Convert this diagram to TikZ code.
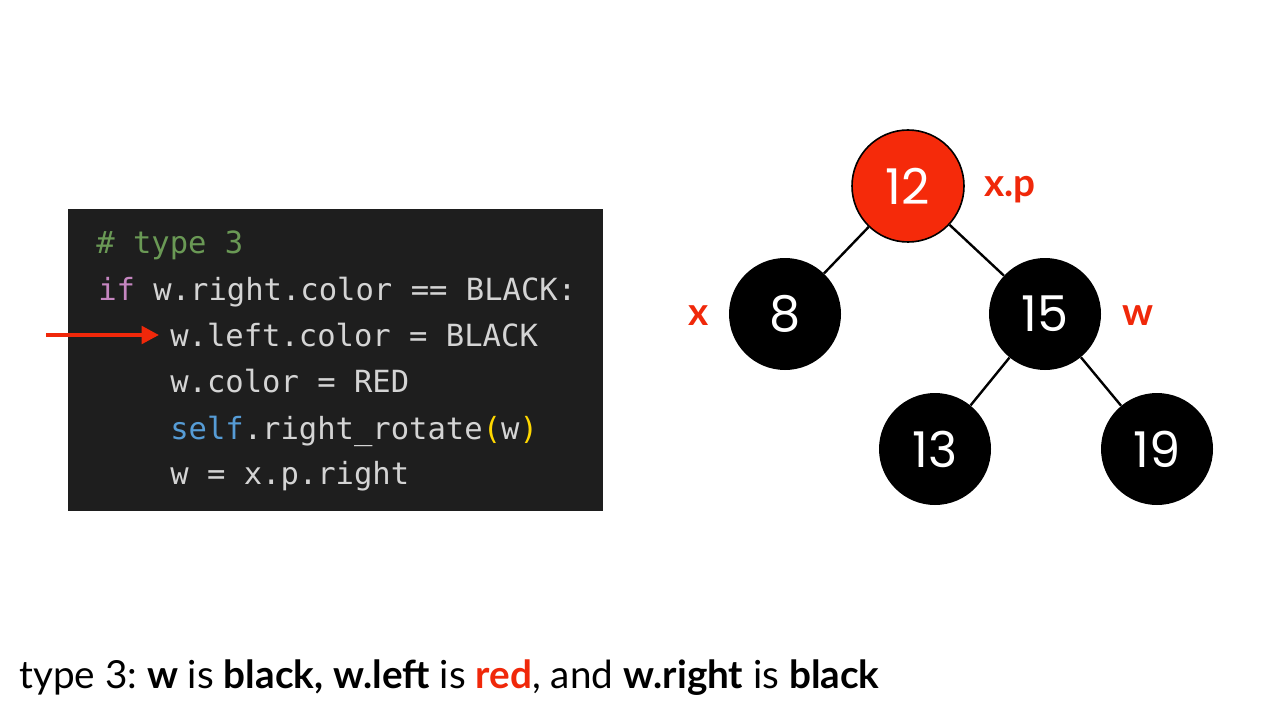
\documentclass[tikz,border=0pt]{standalone}
\usepackage{fontspec}
\setmainfont{Lato}
\setmonofont{DejaVu Sans Mono}
\newfontfamily\digitfont{Poppins}
\usetikzlibrary{arrows.meta}
\definecolor{nodered}{HTML}{F52A0A}
\definecolor{labelred}{HTML}{F0280A}
\definecolor{codebg}{HTML}{1E1E1E}
\definecolor{codefg}{HTML}{D4D4D4}
\definecolor{codecomment}{HTML}{6A9955}
\definecolor{codekw}{HTML}{C586C0}
\definecolor{codeself}{HTML}{569CD6}
\definecolor{codeparen}{HTML}{FFD700}
\frenchspacing
\tikzset{
  treenode/.style={circle, minimum size=84pt, inner sep=0pt, fill=black, text=white,
    font=\digitfont\fontsize{37}{40}\selectfont},
  rednode/.style={treenode, fill=nodered, draw=black, line width=1.2pt},
  edge/.style={line width=1.8pt, black},
  tag/.style={text=labelred, font=\bfseries\fontsize{29}{32}\selectfont, inner sep=0pt, anchor=base},
  codeline/.style={anchor=base west, inner sep=0pt, text=codefg,
    font=\ttfamily\fontsize{22.9}{26}\selectfont},
  pointer/.style={draw=labelred, line width=3pt, -{Triangle[length=13pt,width=13pt]}},
}
\begin{document}
\begin{tikzpicture}[x=0.75pt, y=-0.75pt]
\useasboundingbox[fill=white] (0,0) rectangle (1280,720);

% code panel
\fill[codebg] (68,209) rectangle (603,511);
\node[codeline] (c1) at (96,253) {\textcolor{codecomment}{\# type 3}};
\node[codeline] (c2) at (98,300) {\textcolor{codekw}{if} w.right.color == BLACK:};
\node[codeline] (c3) at (170,346) {w.left.color = BLACK};
\node[codeline] (c4) at (170,392) {w.color = RED};
\node[codeline] (c5) at (170,439) {\textcolor{codeself}{self}.right\_rotate\textcolor{codeparen}{(}w\textcolor{codeparen}{)}};
\node[codeline] (c6) at (170,484) {w = x.p.right};

% pointer to the current line
\coordinate (ptail) at (46,335);
\coordinate (phead) at (159,335);
\draw[pointer] (ptail) -- (phead);

% tree
\node[rednode] (n12) at (908,186) {12};
\node[treenode] (n8) at (785,314) {8};
\node[treenode] (n15) at (1045,314) {15};
\node[treenode] (n13) at (935,449) {13};
\node[treenode] (n19) at (1157,449) {19};
\draw[edge] (n12) -- (n8);
\draw[edge] (n12) -- (n15);
\draw[edge] (n15) -- (n13);
\draw[edge] (n15) -- (n19);

\node[tag] (lxp) at (1010,197) {x.p};
\node[tag] (lx) at (699,325) {x};
\node[tag] (lw) at (1138,325) {w};

% caption
\node[anchor=base west, inner sep=0pt, font=\fontsize{29}{32}\selectfont] (cap) at (19,688)
  {type 3: \textbf{w} is \textbf{black,} \textbf{w.left} is \textcolor{labelred}{\textbf{red}}, and \textbf{w.right} is \textbf{black}};
\end{tikzpicture}
\end{document}
